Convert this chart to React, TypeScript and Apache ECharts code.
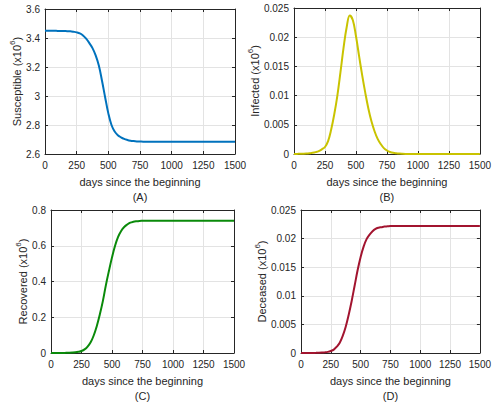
import React, { useEffect, useRef } from "react";
import * as echarts from "echarts";

const days = [
  0, 25, 50, 75, 100, 125, 150, 175, 200, 225, 250, 275, 300, 325, 350, 375, 400, 425, 450, 475,
  500, 525, 550, 575, 600, 625, 650, 675, 700, 725, 750, 775, 800, 825, 850, 875, 900, 925, 950, 975,
  1000, 1025, 1050, 1075, 1100, 1125, 1150, 1175, 1200, 1225, 1250, 1275, 1300, 1325, 1350, 1375, 1400, 1425, 1450, 1475,
  1500,
];

const susceptible = [
  3.45, 3.45, 3.45, 3.45, 3.449, 3.449, 3.448, 3.447, 3.446, 3.443, 3.439, 3.432, 3.418, 3.395, 3.365, 3.33, 3.28, 3.21, 3.105, 2.99,
  2.88, 2.8, 2.755, 2.73, 2.715, 2.704, 2.697, 2.692, 2.689, 2.687, 2.686, 2.685, 2.685, 2.685, 2.685, 2.685, 2.685, 2.685, 2.685, 2.685,
  2.685, 2.685, 2.685, 2.685, 2.685, 2.685, 2.685, 2.685, 2.685, 2.685, 2.685, 2.685, 2.685, 2.685, 2.685, 2.685, 2.685, 2.685, 2.685, 2.685,
  2.685,
];

const infected = [
  0.00001, 0.00002, 0.00003, 0.00005, 0.00008, 0.00013, 0.0002, 0.00032, 0.0005, 0.0008, 0.0012, 0.0022, 0.0042, 0.0068, 0.01, 0.014, 0.0182, 0.0217, 0.0237, 0.0229,
  0.0202, 0.0168, 0.0135, 0.0105, 0.0078, 0.0056, 0.0039, 0.0026, 0.0017, 0.001, 0.0006, 0.00035, 0.0002, 0.00012, 0.00007, 0.00004, 0.00002, 0.00001, 0, 0,
  0, 0, 0, 0, 0, 0, 0, 0, 0, 0, 0, 0, 0, 0, 0, 0, 0, 0, 0, 0,
  0,
];

const recovered = [
  0, 0.0001, 0.0002, 0.0003, 0.0005, 0.0008, 0.0013, 0.0022, 0.0037, 0.0065, 0.011, 0.02, 0.036, 0.06, 0.098, 0.15, 0.215, 0.29, 0.38, 0.46,
  0.535, 0.6, 0.65, 0.683, 0.705, 0.719, 0.729, 0.734, 0.737, 0.739, 0.7395, 0.74, 0.74, 0.74, 0.74, 0.74, 0.74, 0.74, 0.74, 0.74,
  0.74, 0.74, 0.74, 0.74, 0.74, 0.74, 0.74, 0.74, 0.74, 0.74, 0.74, 0.74, 0.74, 0.74, 0.74, 0.74, 0.74, 0.74, 0.74, 0.74,
  0.74,
];

const deceased = [
  0, 0.000003, 0.000006, 0.00001, 0.000015, 0.000025, 0.00004, 0.00007, 0.00012, 0.0002, 0.00035, 0.0006, 0.0011, 0.0018, 0.003, 0.0046, 0.0067, 0.0091, 0.0118, 0.0145,
  0.0168, 0.0186, 0.0199, 0.0207, 0.0213, 0.0217, 0.0219, 0.022, 0.0221, 0.02215, 0.0222, 0.0222, 0.0222, 0.0222, 0.0222, 0.0222, 0.0222, 0.0222, 0.0222, 0.0222,
  0.0222, 0.0222, 0.0222, 0.0222, 0.0222, 0.0222, 0.0222, 0.0222, 0.0222, 0.0222, 0.0222, 0.0222, 0.0222, 0.0222, 0.0222, 0.0222, 0.0222, 0.0222, 0.0222, 0.0222,
  0.0222,
];

const xLabel = "days since the beginning";
const panelLetters = ["(A)", "(B)", "(C)", "(D)"];
const yNames = ["Susceptible", "Infected", "Recovered", "Deceased"];
const seriesValues = [susceptible, infected, recovered, deceased];
const yRanges = [
  { min: 2.6, max: 3.6, interval: 0.2 },
  { min: 0, max: 0.025, interval: 0.005 },
  { min: 0, max: 0.8, interval: 0.2 },
  { min: 0, max: 0.025, interval: 0.005 },
];

const layout = [
  { grid: { left: 45, top: 9, width: 190, height: 145 }, yGap: 21, color: "#0072BD" },
  { grid: { left: 294, top: 8, width: 191, height: 146 }, yGap: 28, color: "#C9C300" },
  { grid: { left: 51, top: 210, width: 183, height: 143 }, yGap: 21, color: "#0A8A0A" },
  { grid: { left: 301, top: 210, width: 183, height: 143 }, yGap: 33, color: "#A2142F" },
];

const FONT = "Liberation Sans, Arial, Helvetica, sans-serif";
const INK = "#262626";
const fmt = (v: number) => String(parseFloat(v.toFixed(6)));

export default function App() {
  const ref = useRef<HTMLDivElement>(null);
  useEffect(() => {
    document.body.style.margin = "0";
    if (!ref.current) return;
    const chart = echarts.init(ref.current, null, { renderer: "svg" });
    const grids: any[] = [];
    const xAxes: any[] = [];
    const yAxes: any[] = [];
    const series: any[] = [];
    const tick = { show: true, inside: true, length: 3, lineStyle: { color: INK, width: 1 } };
    const line = { show: true, onZero: false, lineStyle: { color: INK, width: 1 } };
    layout.forEach((p, i) => {
      grids.push({ ...p.grid, containLabel: false });
      const xBase = { gridIndex: i, type: "value", min: 0, max: 1500, interval: 250 };
      xAxes.push({
        ...xBase,
        position: "bottom",
        axisLine: line,
        axisTick: tick,
        axisLabel: { color: INK, fontSize: 10, margin: 6, fontFamily: FONT, formatter: fmt },
        splitLine: { show: true, lineStyle: { color: "#e3e3e3", width: 1 } },
        name: xLabel + "\n" + panelLetters[i],
        nameLocation: "middle",
        nameGap: 20,
        nameTextStyle: { color: INK, fontSize: 11, lineHeight: 15, fontFamily: FONT },
      });
      xAxes.push({
        ...xBase,
        position: "top",
        axisLine: line,
        axisTick: tick,
        axisLabel: { show: false },
        splitLine: { show: false },
      });
      const r = yRanges[i];
      const yBase = { gridIndex: i, type: "value", min: r.min, max: r.max, interval: r.interval };
      yAxes.push({
        ...yBase,
        position: "left",
        axisLine: line,
        axisTick: tick,
        axisLabel: { color: INK, fontSize: 10, margin: 5, fontFamily: FONT, formatter: fmt },
        splitLine: { show: true, lineStyle: { color: "#e3e3e3", width: 1 } },
        name: "{a|" + yNames[i] + " (x10}{s|6}{a|)}",
        nameLocation: "middle",
        nameGap: p.yGap,
        nameTextStyle: {
          color: INK,
          fontFamily: FONT,
          rich: {
            a: { fontSize: 11, color: INK, fontFamily: FONT, lineHeight: 14, verticalAlign: "bottom" },
            s: { fontSize: 8, color: INK, fontFamily: FONT, lineHeight: 14, verticalAlign: "top" },
          },
        },
      });
      yAxes.push({
        ...yBase,
        position: "right",
        axisLine: line,
        axisTick: tick,
        axisLabel: { show: false },
        splitLine: { show: false },
      });
      series.push({
        type: "line",
        xAxisIndex: i * 2,
        yAxisIndex: i * 2,
        data: days.map((d, k) => [d, seriesValues[i][k]]),
        showSymbol: false,
        smooth: 0.4,
        lineStyle: { color: p.color, width: 2 },
        itemStyle: { color: p.color },
        clip: true,
      });
    });
    chart.setOption({
      animation: false,
      backgroundColor: "#ffffff",
      grid: grids,
      xAxis: xAxes,
      yAxis: yAxes,
      series,
    });
    return () => chart.dispose();
  }, []);
  return <div ref={ref} style={{ width: 494, height: 406 }} />;
}
